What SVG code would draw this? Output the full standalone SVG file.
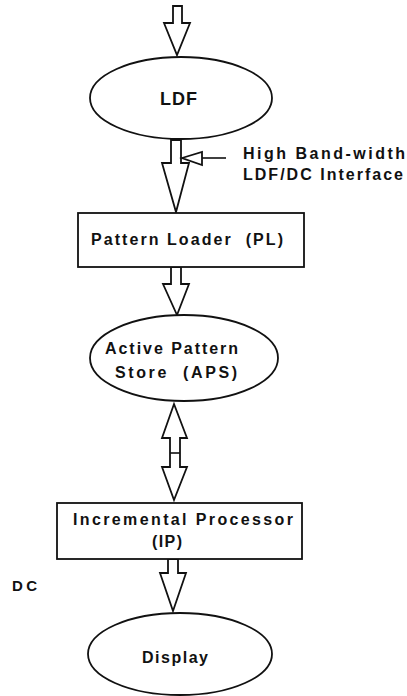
<svg xmlns="http://www.w3.org/2000/svg" width="407" height="696" viewBox="0 0 407 696">
<style>
.s{fill:#fff;stroke:#111;stroke-width:1.8;stroke-linejoin:miter}
.t{font-family:"Liberation Sans",Arial,sans-serif;font-weight:bold;font-size:16px;fill:#111;white-space:pre}
.ln{fill:none;stroke:#111;stroke-width:1.6}
</style>
<rect width="407" height="696" fill="#fff"/>
<g id="connectors">
<polygon class="s" points="173,6 182,6 182,23 190,23 177,55 164,23 173,23"/>
<polygon class="s" points="171,140 181,140 181,163 189,163 176,212 162,163 171,163"/>
<polygon class="s" points="171,267 181,267 181,284 189,284 177,315 163,284 171,284"/>
<polygon class="s" points="174,404 187,438 180,438 180,467 187,467 174,500 162,467 170,467 170,438 162,438"/>
<line class="ln" x1="170" y1="453" x2="180" y2="453"/>
<polygon class="s" points="168,559 178,559 178,573 186,573 173,611 160,573 168,573"/>
<line class="ln" x1="226" y1="158" x2="202" y2="158"/>
<polygon class="s" points="182,158 202,152 202,165"/>
</g>
<g id="ldf">
<ellipse class="s" cx="181" cy="98" rx="91" ry="41"/>
<text class="t" x="160" y="105" style="font-size:18px" textLength="37" lengthAdjust="spacing">LDF</text>
</g>
<g id="label-interface">
<text class="t" x="243" y="159" textLength="162" lengthAdjust="spacing">High Band-width</text>
<text class="t" x="243" y="180" textLength="160" lengthAdjust="spacing">LDF/DC Interface</text>
</g>
<g id="pl">
<rect class="s" x="78" y="213" width="226" height="54"/>
<text class="t" x="91" y="245" textLength="192" lengthAdjust="spacing">Pattern Loader  (PL)</text>
</g>
<g id="aps">
<ellipse class="s" cx="184" cy="358" rx="94" ry="43"/>
<text class="t" x="105" y="354" textLength="133" lengthAdjust="spacing">Active Pattern</text>
<text class="t" x="115" y="378" textLength="122" lengthAdjust="spacing">Store  (APS)</text>
</g>
<g id="ip">
<rect class="s" x="57" y="503" width="245" height="56"/>
<text class="t" x="73" y="525" textLength="220" lengthAdjust="spacing">Incremental Processor</text>
<text class="t" x="152" y="547" textLength="30" lengthAdjust="spacing">(IP)</text>
</g>
<g id="dc">
<text class="t" x="12" y="591" style="font-size:15px" textLength="25" lengthAdjust="spacing">DC</text>
</g>
<g id="display">
<ellipse class="s" cx="180" cy="654" rx="92" ry="41"/>
<text class="t" x="142" y="663" textLength="66" lengthAdjust="spacing">Display</text>
</g>
</svg>
